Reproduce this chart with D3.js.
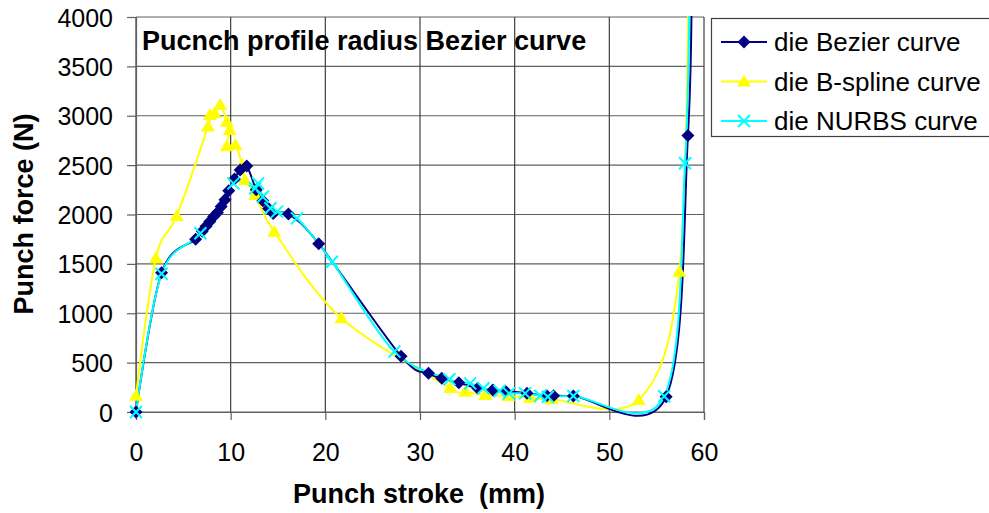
<!DOCTYPE html>
<html>
<head>
<meta charset="utf-8">
<script src="https://cdn.jsdelivr.net/npm/d3@7"></script>
<style>
  body { margin: 0; background: white; }
  text { font-family: "Liberation Sans", Arial, sans-serif; }
</style>
</head>
<body>
<div id="chart"></div>
<script>
// values
var bezierX = [0, 2.7, 6.3, 7.0, 7.4, 7.8, 8.2, 8.6, 9.0, 9.4, 9.8, 10.4, 11.0, 11.7, 12.7, 13.4, 14.0, 14.5, 16.1, 19.3, 28.0, 30.9, 32.3, 34.1, 36.1, 37.7, 39.0, 41.3, 43.4, 44.1, 46.2, 56.0, 58.3, 58.7];
var bezierY = [0, 1410, 1750, 1830, 1880, 1930, 1980, 2020, 2080, 2150, 2240, 2360, 2450, 2490, 2250, 2140, 2060, 2010, 2005, 1705, 565, 392, 341, 297, 240, 223, 213, 189, 165, 165, 162, 155, 2800, 4800];

var bsplineX = [0, 2.1, 4.3, 7.6, 7.8, 8.3, 8.9, 9.6, 9.9, 9.6, 10.5, 11.2, 11.5, 12.6, 14.6, 21.7, 33.2, 34.8, 36.9, 39.3, 41.6, 43.9, 53.1, 57.4, 58.4];
var bsplineY = [165, 1556, 1985, 2890, 3008, 3025, 3109, 2940, 2856, 2690, 2704, 2501, 2349, 2197, 1826, 949, 243, 206, 172, 162, 145, 128, 121, 1421, 4800];

var nurbsX = [0, 2.7, 6.8, 10.3, 12.6, 12.9, 13.4, 14.2, 14.9, 17.0, 20.7, 27.3, 33.1, 35.3, 36.7, 38.4, 39.4, 41.1, 42.7, 43.5, 46.2, 55.8, 58.0, 58.5];
var nurbsY = [0, 1400, 1810, 2315, 2265, 2315, 2180, 2063, 2029, 1961, 1522, 611, 331, 290, 240, 213, 189, 189, 165, 155, 162, 160, 2519, 4800];

var xTicks = [0, 10, 20, 30, 40, 50, 60];
var yTicks = [0, 500, 1000, 1500, 2000, 2500, 3000, 3500, 4000];
var seriesNames = ["die Bezier curve", "die B-spline curve", "die NURBS curve"];
var seriesColors = ["#000080", "#FFFF00", "#00FFFF"];

var width = 989, height = 513;
var plotLeft = 136, plotRight = 704, plotTop = 17, plotBottom = 412;

var svg = d3.select("#chart").append("svg")
    .attr("width", width)
    .attr("height", height)
    .style("background", "white");

var x = d3.scaleLinear().domain([0, 60]).range([plotLeft, plotRight]);
var y = d3.scaleLinear().domain([0, 4000]).range([plotBottom, plotTop]);

svg.append("defs").append("clipPath").attr("id", "plot")
    .append("rect").attr("x", plotLeft - 10).attr("y", plotTop - 1)
    .attr("width", plotRight - plotLeft + 20).attr("height", plotBottom - plotTop + 30);

// grid
svg.append("g").selectAll("line").data(yTicks).enter().append("line")
    .attr("x1", plotLeft).attr("x2", plotRight)
    .attr("y1", function (d) { return y(d); }).attr("y2", function (d) { return y(d); })
    .attr("stroke", "#606060").attr("stroke-width", 1.2);
svg.append("g").selectAll("line").data(xTicks).enter().append("line")
    .attr("x1", function (d) { return x(d); }).attr("x2", function (d) { return x(d); })
    .attr("y1", plotTop).attr("y2", plotBottom)
    .attr("stroke", "#404040").attr("stroke-width", 1.2);

var xAxis = d3.axisBottom(x).tickValues(xTicks).tickSize(8).tickPadding(23).tickFormat(d3.format("d"));
var yAxis = d3.axisLeft(y).tickValues(yTicks).tickSize(9).tickPadding(14).tickFormat(d3.format("d"));

var gx = svg.append("g").attr("transform", "translate(0," + plotBottom + ")").call(xAxis);
var gy = svg.append("g").attr("transform", "translate(" + plotLeft + ",0)").call(yAxis);
[gx, gy].forEach(function (g) {
    g.select(".domain").attr("stroke", "#606060").attr("stroke-width", 1.2);
    g.selectAll(".tick line").attr("stroke", "#606060").attr("stroke-width", 1.2);
    g.selectAll(".tick text").attr("font-size", "25px").attr("fill", "#000")
        .style("font-family", "Liberation Sans, Arial, sans-serif");
});
gy.selectAll(".tick text").attr("dy", "0.36em");

// Excel-style smoothing (uniform Catmull-Rom)
var line = d3.line()
    .x(function (d) { return x(d[0]); })
    .y(function (d) { return y(d[1]); })
    .curve(d3.curveCatmullRom.alpha(0));

function zip(xs, ys) { return xs.map(function (v, i) { return [v, ys[i]]; }); }
var series = [zip(bezierX, bezierY), zip(bsplineX, bsplineY), zip(nurbsX, nurbsY)];

var plot = svg.append("g").attr("clip-path", "url(#plot)");

function marker(g, kind, cx, cy, color) {
    if (kind == 0) {
        g.append("path").attr("d", "M" + cx + "," + (cy - 6.5) + "L" + (cx + 6.5) + "," + cy + "L" + cx + "," + (cy + 6.5) + "L" + (cx - 6.5) + "," + cy + "Z")
            .attr("fill", color);
    } else if (kind == 1) {
        g.append("path").attr("d", "M" + cx + "," + (cy - 7) + "L" + (cx + 7) + "," + (cy + 5) + "L" + (cx - 7) + "," + (cy + 5) + "Z")
            .attr("fill", color);
    } else {
        g.append("path").attr("d", "M" + (cx - 6) + "," + (cy - 6) + "L" + (cx + 6) + "," + (cy + 6) + "M" + (cx + 6) + "," + (cy - 6) + "L" + (cx - 6) + "," + (cy + 6))
            .attr("stroke", color).attr("stroke-width", 2);
    }
}

// draw order: bspline, bezier, nurbs
[1, 0, 2].forEach(function (i) {
    plot.append("path").attr("d", line(series[i]))
        .attr("fill", "none").attr("stroke", seriesColors[i]).attr("stroke-width", 2);
});
[1, 0, 2].forEach(function (i) {
    var g = plot.append("g");
    series[i].forEach(function (p) {
        if (p[1] <= 4000) marker(g, i, x(p[0]), y(p[1]), seriesColors[i]);
    });
});

// titles
svg.append("text").attr("x", 142).attr("y", 50)
    .attr("font-size", "27px").attr("font-weight", "bold")
    .text("Pucnch profile radius Bezier curve");

svg.append("text").attr("x", 419).attr("y", 503)
    .attr("text-anchor", "middle").attr("font-size", "27px").attr("font-weight", "bold")
    .style("white-space", "pre")
    .text("Punch stroke  (mm)");

svg.append("text")
    .attr("transform", "translate(33,214)rotate(-90)")
    .attr("text-anchor", "middle").attr("font-size", "27px").attr("font-weight", "bold")
    .text("Punch force (N)");

// legend
var lg = svg.append("g");
lg.append("rect").attr("x", 711.5).attr("y", 18.5).attr("width", 280).attr("height", 118)
    .attr("fill", "white").attr("stroke", "#404040").attr("stroke-width", 1.2);
seriesNames.forEach(function (name, i) {
    var ly = 42 + i * 39.5;
    lg.append("line").attr("x1", 721).attr("x2", 767).attr("y1", ly).attr("y2", ly)
        .attr("stroke", seriesColors[i]).attr("stroke-width", 2);
    marker(lg, i, 744, ly, seriesColors[i]);
    lg.append("text").attr("x", 774).attr("y", ly + 9).attr("font-size", "26px").text(name);
});
</script>
</body>
</html>
